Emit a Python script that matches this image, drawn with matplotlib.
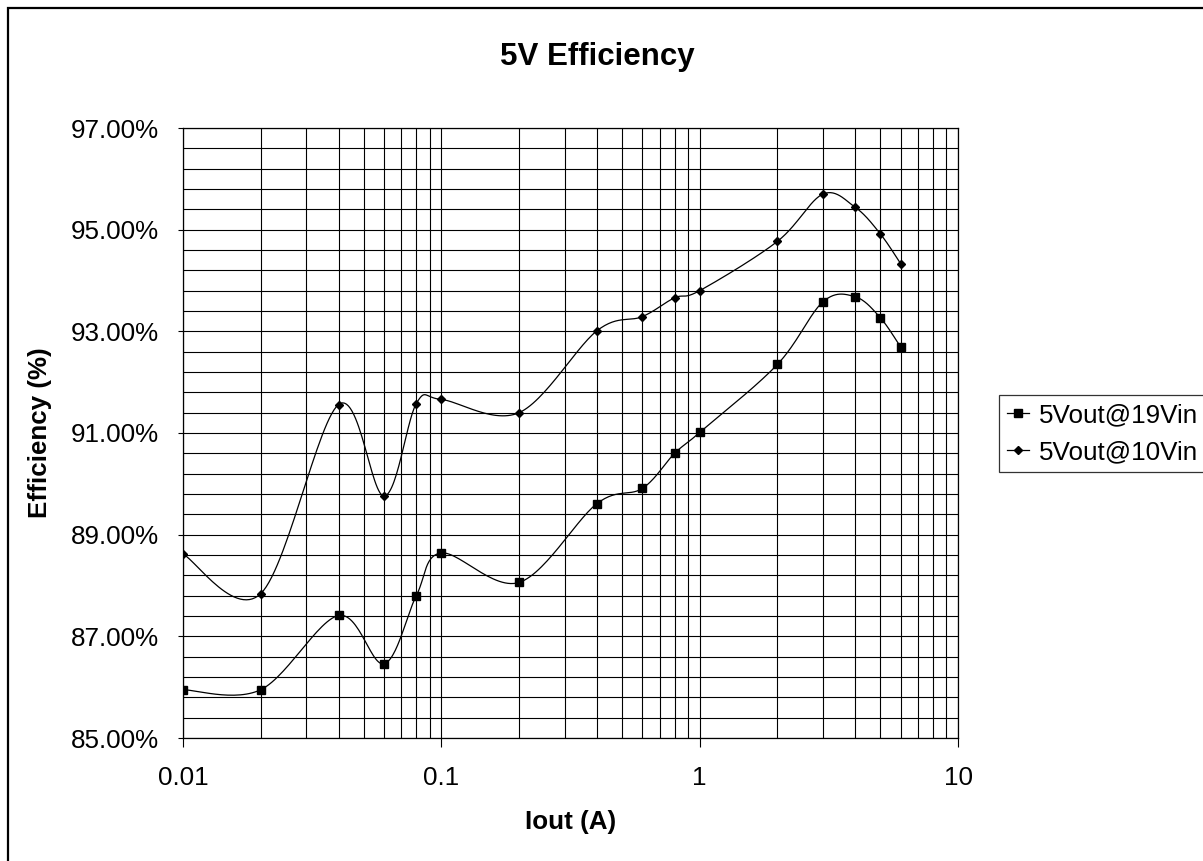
import numpy as np
import matplotlib.pyplot as plt
from matplotlib.ticker import FixedLocator, FuncFormatter, LogLocator
from matplotlib.patches import Rectangle

plt.rcParams['font.family'] = ['Liberation Sans', 'DejaVu Sans']

iout = [0.01, 0.02, 0.04, 0.06, 0.08, 0.1, 0.2, 0.4, 0.6, 0.8, 1, 2, 3, 4, 5, 6]
eff_19vin = [85.95, 85.95, 87.41, 86.46, 87.80, 88.64, 88.06, 89.61, 89.91, 90.60,
             91.01, 92.35, 93.58, 93.68, 93.27, 92.69]
eff_10vin = [88.62, 87.84, 91.56, 89.76, 91.58, 91.66, 91.40, 93.01, 93.29, 93.66,
             93.80, 94.77, 95.70, 95.44, 94.92, 94.33]

labels = ['5Vout@19Vin', '5Vout@10Vin']
markers = ['s', 'D']
marker_sizes = [6, 4]

FS = 18.75


def smooth(xs, ys, steps=30):
    # catmull-rom through the points, done in log-x space
    lx = np.log10(np.asarray(xs, dtype=float))
    y = np.asarray(ys, dtype=float)
    px = np.concatenate([[lx[0]], lx, [lx[-1]]])
    py = np.concatenate([[y[0]], y, [y[-1]]])
    out_x, out_y = [], []
    t = np.linspace(0, 1, steps)
    for i in range(1, len(px) - 2):
        x0, x1, x2, x3 = px[i - 1:i + 3]
        y0, y1, y2, y3 = py[i - 1:i + 3]
        c1x, c1y = x1 + (x2 - x0) / 6, y1 + (y2 - y0) / 6
        c2x, c2y = x2 - (x3 - x1) / 6, y2 - (y3 - y1) / 6
        bx = (1 - t) ** 3 * x1 + 3 * (1 - t) ** 2 * t * c1x + 3 * (1 - t) * t ** 2 * c2x + t ** 3 * x2
        by = (1 - t) ** 3 * y1 + 3 * (1 - t) ** 2 * t * c1y + 3 * (1 - t) * t ** 2 * c2y + t ** 3 * y2
        out_x.extend(bx)
        out_y.extend(by)
    return 10 ** np.array(out_x), np.array(out_y)


fig = plt.figure(figsize=(12.03, 8.61), dpi=100)
ax = fig.add_axes([183 / 1203, 1 - 738 / 861, 775 / 1203, 610 / 861])

for ys, lab, m, ms in zip([eff_19vin, eff_10vin], labels, markers, marker_sizes):
    sx, sy = smooth(iout, ys)
    ax.plot(sx, sy, color='black', lw=0.9, zorder=3)
    ax.plot(iout, ys, ls='none', marker=m, ms=ms, color='black', zorder=4)
    ax.plot([], [], color='black', lw=0.9, marker=m, ms=ms, label=lab)

ax.set_xscale('log')
ax.set_xlim(0.01, 10)
ax.set_ylim(85, 97)

ax.xaxis.set_major_locator(FixedLocator([0.01, 0.1, 1, 10]))
ax.xaxis.set_minor_locator(LogLocator(base=10, subs=np.arange(2, 10)))
ax.xaxis.set_minor_formatter(FuncFormatter(lambda v, p: ''))
ax.xaxis.set_major_formatter(FuncFormatter(lambda v, p: '%g' % v))
ax.yaxis.set_major_locator(FixedLocator(np.arange(85, 97.01, 2)))
ax.yaxis.set_minor_locator(FixedLocator(np.arange(85, 97.01, 0.4)))
ax.yaxis.set_major_formatter(FuncFormatter(lambda v, p: '%.2f%%' % v))

ax.grid(True, which='both', color='black', lw=0.8)
ax.tick_params(axis='x', which='major', direction='out', length=6.5, width=0.8,
               labelsize=FS, pad=14)
ax.tick_params(axis='y', which='major', direction='out', length=3.5, width=0.8,
               labelsize=FS, pad=14)
ax.tick_params(which='minor', length=0)
for s in ax.spines.values():
    s.set_color('black')
    s.set_linewidth(0.9)

ax.set_xlabel('Iout (A)', fontsize=FS, fontweight='bold', va='center')
ax.set_ylabel('Efficiency (%)', fontsize=FS, fontweight='bold', va='center')
ax.xaxis.set_label_coords(570.5 / 1203, 1 - 822 / 861, transform=fig.transFigure)
ax.yaxis.set_label_coords(40 / 1203, 1 - 433 / 861, transform=fig.transFigure)
fig.text(597 / 1203, 1 - 57 / 861, '5V Efficiency', fontsize=22.5, fontweight='bold',
         ha='center', va='center')

leg = ax.legend(loc='upper left', bbox_to_anchor=(999 / 1203, 1 - 395 / 861),
                bbox_transform=fig.transFigure, fontsize=FS, frameon=True,
                fancybox=False, edgecolor='black', handlelength=0.85,
                handletextpad=0.38, borderpad=0.3, labelspacing=0.5, borderaxespad=0)
leg.get_frame().set_linewidth(0.9)

# chart frame
fig.patches.append(Rectangle((7.5 / 1203, -0.1), 1.2, 1 - 7.5 / 861 + 0.1,
                             transform=fig.transFigure, fill=False,
                             edgecolor='black', lw=1.6, zorder=0))

fig.savefig('out.png', dpi=100)
